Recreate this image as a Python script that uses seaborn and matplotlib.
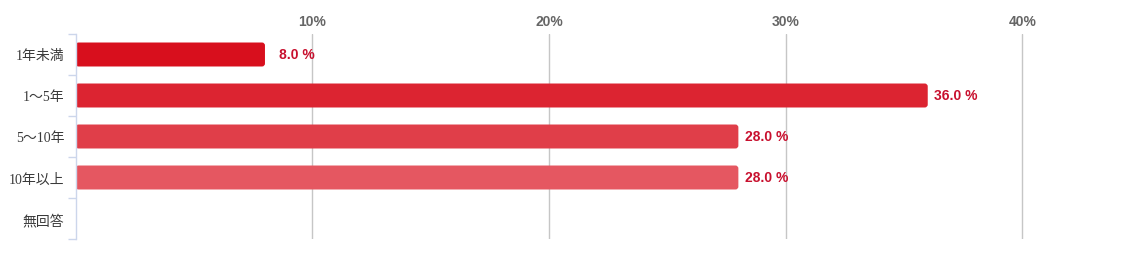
import matplotlib
matplotlib.use("Agg")
import matplotlib.pyplot as plt
from matplotlib.patches import FancyBboxPatch
import seaborn as sns
import pandas as pd
import numpy as np

categories = ["1年未満", "1～5年", "5～10年", "10年以上", "無回答"]
values = [8.0, 36.0, 28.0, 28.0, 0.0]
bar_colors = ["#d80f1d", "#dc2431", "#e03e49", "#e55761", "#e87078"]
tick_values = [10, 20, 30, 40]
tick_labels = ["10%", "20%", "30%", "40%"]

sns.set_theme(style="white")
plt.rcParams["font.family"] = ["Liberation Sans", "Noto Sans CJK JP", "DejaVu Sans"]

df = pd.DataFrame({"category": categories, "value": values})

fig = plt.figure(figsize=(11.24, 2.55), dpi=100)
ax = fig.add_axes([75.6 / 1124, 15 / 255, 1041.5 / 1124, 205 / 255])

sns.barplot(data=df, x="value", y="category", hue="category", palette=bar_colors,
            order=categories, hue_order=categories, legend=False, width=0.585,
            ax=ax, zorder=3, saturation=1, linewidth=0)

ax.set_xlim(0, 44)
ax.set_ylim(4.5, -0.5)

# rounded bar corners, built from the seaborn patches
xpx = 44 / 1041.5
ypx = 5 / 205
for p in list(ax.patches):
    w, h = p.get_width(), p.get_height()
    if w <= 0:
        p.set_visible(False)
        continue
    fb = FancyBboxPatch((p.get_x(), p.get_y()), w, h,
                        boxstyle=f"round,pad=0,rounding_size={3 * xpx}",
                        mutation_aspect=ypx / xpx,
                        facecolor=p.get_facecolor(), edgecolor="none", zorder=3)
    p.set_visible(False)
    ax.add_patch(fb)

# grid
ax.set_xticks(tick_values)
ax.set_xticklabels(tick_labels)
ax.xaxis.tick_top()
ax.tick_params(axis="x", length=0, pad=4, labelsize=10, labelcolor="#666666")
for t in ax.get_xticklabels():
    t.set_fontweight("bold")
for xv in tick_values:
    ax.axvline(xv, color="#c6c6c6", lw=1, zorder=1)

# y axis
ax.set_xlabel("")
ax.set_ylabel("")
ax.set_yticks(range(len(categories)))
ax.set_yticklabels(categories, fontsize=10, color="#3a3a3a",
                   family=["Liberation Serif", "Noto Sans CJK JP"])
ax.set_yticks(np.arange(-0.5, len(categories), 1), minor=True)
ax.tick_params(axis="y", which="major", length=0, pad=8)
ax.tick_params(axis="y", which="minor", length=6, width=1, color="#ccd6eb", left=True)

for s in ["top", "right", "bottom"]:
    ax.spines[s].set_visible(False)
ax.spines["left"].set_color("#ccd6eb")
ax.spines["left"].set_linewidth(1)
ax.spines["left"].set_zorder(5)

# value labels
for i, v in enumerate(values):
    if v > 0:
        ax.annotate(f"{v:.1f} %", xy=(v, i), xytext=(36, 0), textcoords="offset points",
                    ha="right", va="center", fontsize=10, fontweight="bold",
                    color="#c8102e", zorder=4)

fig.savefig("out.png", dpi=100)
